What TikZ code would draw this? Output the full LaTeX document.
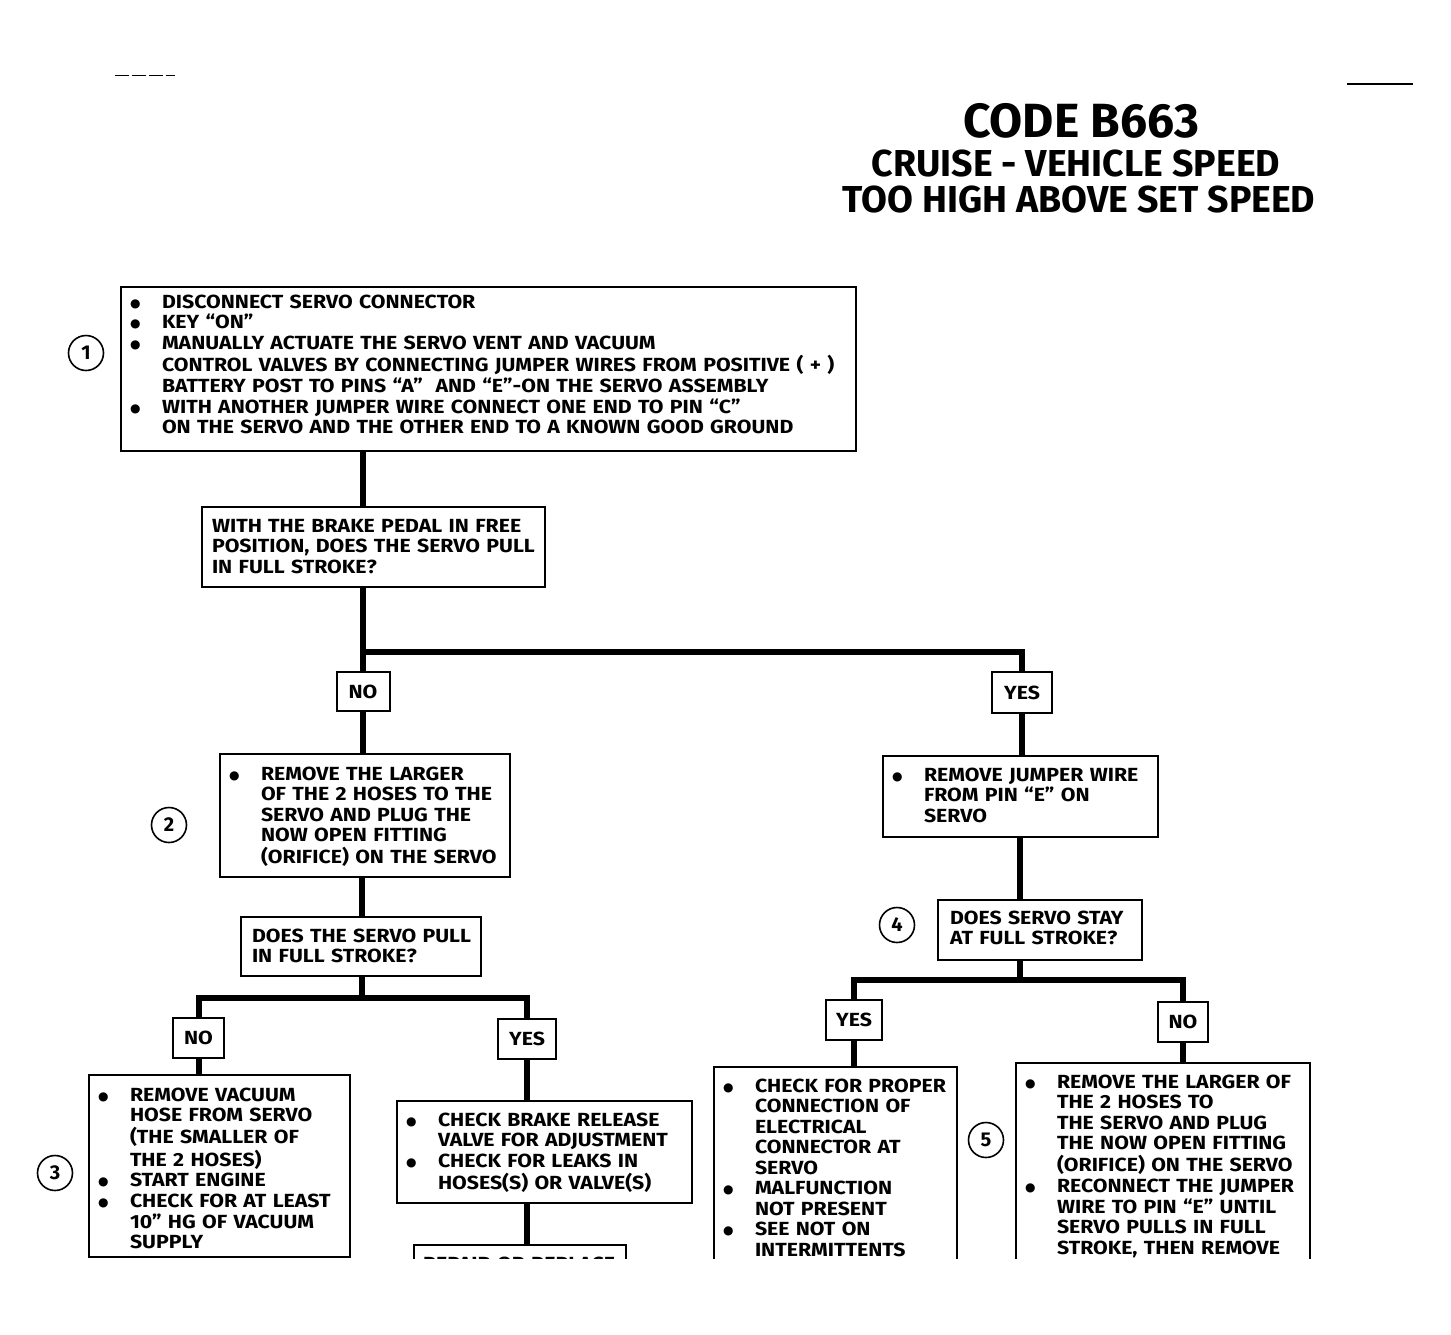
\documentclass[tikz,border=0pt]{standalone}
\usepackage{fontspec}
\setmainfont{Fira Sans}
\newfontfamily\bodyfam[FakeStretch=1.12, Ligatures=TeX]{Fira Sans}
\newfontfamily\symfam{DejaVu Sans}
\usetikzlibrary{positioning}

\newcommand\bodyfont{\bodyfam\fontsize{19}{20.5}\selectfont\bfseries}
\newcommand\bul{\raisebox{1pt}{\symfam\fontsize{12}{12}\selectfont ●}}
\newcommand\blist[1]{\begin{tabular}[t]{@{}p{32pt}@{}l@{}}#1\end{tabular}}
\newcommand\qlist[1]{\begin{tabular}[t]{@{}l@{}}#1\end{tabular}}

\tikzset{
    stepbox/.style={
        draw=black,
        line width=2pt,
        anchor=north west,
        outer sep=0pt,
        inner xsep=9pt,
        inner ysep=0pt,
        align=left,
        font=\bodyfont
    },
    lbl/.style={
        draw=black,
        line width=2pt,
        outer sep=0pt,
        inner sep=0pt,
        font=\bodyfont
    },
    num/.style={
        circle,
        draw=black,
        line width=1.6pt,
        minimum size=35pt,
        inner sep=0pt,
        font=\fontsize{20}{20}\selectfont\bfseries
    },
    conn/.style={
        draw=black,
        line width=6pt
    }
}

\begin{document}
\begin{tikzpicture}[x=1pt, y=-1pt]
    \useasboundingbox (0,0) rectangle (1451,1334);

    % Heading
    \node[anchor=base, font=\fontsize{48}{48}\selectfont\bfseries] (title) at (1081,137) {CODE B663};
    \node[anchor=base, font=\fontsize{37.5}{37.5}\selectfont\bfseries] (sub1) at (1076,176) {CRUISE - VEHICLE SPEED};
    \node[anchor=base, font=\fontsize{37.5}{37.5}\selectfont\bfseries] (sub2) at (1079,212) {TOO HIGH ABOVE SET SPEED};

    \draw[line width=1pt, dash pattern=on 14pt off 3pt] (115,75) -- (175,75);
    \draw[line width=1.5pt] (1347,84) -- (1413,84);

    \begin{scope}
    \clip (0,0) rectangle (1451,1258);

    % Step 1 and first question
    \node[stepbox, text width=717pt, text height=21pt, text depth=143pt] (b1) at (121,287) {\blist{
        \bul & DISCONNECT SERVO CONNECTOR\\
        \bul & KEY ``ON''\\
        \bul & MANUALLY ACTUATE THE SERVO VENT AND VACUUM\\
             & CONTROL VALVES BY CONNECTING JUMPER WIRES FROM POSITIVE ( + )\\
             & BATTERY POST TO PINS ``A''\ \ AND ``E''-ON THE SERVO ASSEMBLY\\
        \bul & WITH ANOTHER JUMPER WIRE CONNECT ONE END TO PIN ``C''\\
             & ON THE SERVO AND THE OTHER END TO A KNOWN GOOD GROUND}};
    \node[stepbox, inner xsep=10pt, text width=323pt, text height=25pt, text depth=55pt] (q1) at (202,507) {\qlist{
        WITH THE BRAKE PEDAL IN FREE\\
        POSITION, DOES THE SERVO PULL\\
        IN FULL STROKE?}};

    \node[lbl, minimum width=53pt, minimum height=39pt] (no1) at (363,691.5) {NO};
    \node[lbl, minimum width=60pt, minimum height=41pt] (yes1) at (1022,692.5) {YES};

    % Left branch
    \node[stepbox, text width=272pt, text height=26pt, text depth=97pt] (b2) at (220,754) {\blist{
        \bul & REMOVE THE LARGER\\
             & OF THE 2 HOSES TO THE\\
             & SERVO AND PLUG THE\\
             & NOW OPEN FITTING\\
             & (ORIFICE) ON THE SERVO}};
    \node[stepbox, inner xsep=11pt, text width=218pt, text height=25pt, text depth=34pt] (q2) at (241,917) {\qlist{
        DOES THE SERVO PULL\\
        IN FULL STROKE?}};

    \node[lbl, minimum width=51pt, minimum height=40pt] (no2) at (198.5,1038) {NO};
    \node[lbl, minimum width=58pt, minimum height=40pt] (yes2) at (527,1039) {YES};

    \node[stepbox, text width=243pt, text height=26pt, text depth=156pt] (b3) at (89,1075) {\blist{
        \bul & REMOVE VACUUM\\
             & HOSE FROM SERVO\\
             & (THE SMALLER OF\\
             & THE 2 HOSES)\\
        \bul & START ENGINE\\
        \bul & CHECK FOR AT LEAST\\
             & 10'' HG OF VACUUM\\
             & SUPPLY}};
    \node[stepbox, text width=277pt, text height=25pt, text depth=77pt] (b3y) at (397,1101) {\blist{
        \bul & CHECK BRAKE RELEASE\\
             & VALVE FOR ADJUSTMENT\\
        \bul & CHECK FOR LEAKS IN\\
             & HOSES(S) OR VALVE(S)}};
    \node[stepbox, text width=194pt, text height=25pt, text depth=60pt] (b3r) at (414,1245) {\qlist{
        REPAIR OR REPLACE}};

    % Right branch
    \node[stepbox, text width=257pt, text height=25pt, text depth=56pt] (b4) at (883,756) {\blist{
        \bul & REMOVE JUMPER WIRE\\
             & FROM PIN ``E'' ON\\
             & SERVO}};
    \node[stepbox, inner xsep=12pt, text width=180pt, text height=24pt, text depth=36pt] (q4) at (938,900) {\qlist{
        DOES SERVO STAY\\
        AT FULL STROKE?}};

    \node[lbl, minimum width=56pt, minimum height=40pt] (yes3) at (854,1020) {YES};
    \node[lbl, minimum width=50pt, minimum height=40pt] (no3) at (1183,1022) {NO};

    \node[stepbox, text width=225pt, text height=25pt, text depth=200pt] (b5a) at (714,1067) {\blist{
        \bul & CHECK FOR PROPER\\
             & CONNECTION OF\\
             & ELECTRICAL\\
             & CONNECTOR AT\\
             & SERVO\\
        \bul & MALFUNCTION\\
             & NOT PRESENT\\
        \bul & SEE NOT ON\\
             & INTERMITTENTS}};
    \node[stepbox, text width=276pt, text height=25pt, text depth=200pt] (b5b) at (1016,1063) {\blist{
        \bul & REMOVE THE LARGER OF\\
             & THE 2 HOSES TO\\
             & THE SERVO AND PLUG\\
             & THE NOW OPEN FITTING\\
             & (ORIFICE) ON THE SERVO\\
        \bul & RECONNECT THE JUMPER\\
             & WIRE TO PIN ``E'' UNTIL\\
             & SERVO PULLS IN FULL\\
             & STROKE, THEN REMOVE\\
             & THE JUMPER WIRE}};

    % Step numbers
    \node[num] (n1) at (86,353) {1};
    \node[num] (n2) at (169,825) {2};
    \node[num] (n3) at (55,1173) {3};
    \node[num] (n4) at (897,925) {4};
    \node[num] (n5) at (986,1140) {5};

    % Connectors
    \coordinate (split1) at (363,652);
    \coordinate (split2) at (362,998);
    \coordinate (split3) at (1020,980);

    \draw[conn] (b1.south -| split1) -- (q1.north -| split1);
    \draw[conn] (q1.south -| split1) -- (no1.north);
    \draw[conn] (split1) -| (yes1.north);
    \draw[conn] (no1.south) -- (b2.north -| no1);
    \draw[conn] (b2.south -| split2) -- (q2.north -| split2);
    \draw[conn] (q2.south -| split2) -- (split2);
    \draw[conn] (no2.north) |- (split2) -| (yes2.north);
    \draw[conn] (no2.south) -- (b3.north -| no2);
    \draw[conn] (yes2.south) -- (b3y.north -| yes2);
    \draw[conn] (b3y.south -| yes2) -- (b3r.north -| yes2);

    \draw[conn] (yes1.south) -- (b4.north -| yes1);
    \draw[conn] (b4.south -| split3) -- (q4.north -| split3);
    \draw[conn] (q4.south -| split3) -- (split3);
    \draw[conn] (yes3.north) |- (split3) -| (no3.north);
    \draw[conn] (yes3.south) -- (b5a.north -| yes3);
    \draw[conn] (no3.south) -- (b5b.north -| no3);
    \end{scope}

\end{tikzpicture}
\end{document}
